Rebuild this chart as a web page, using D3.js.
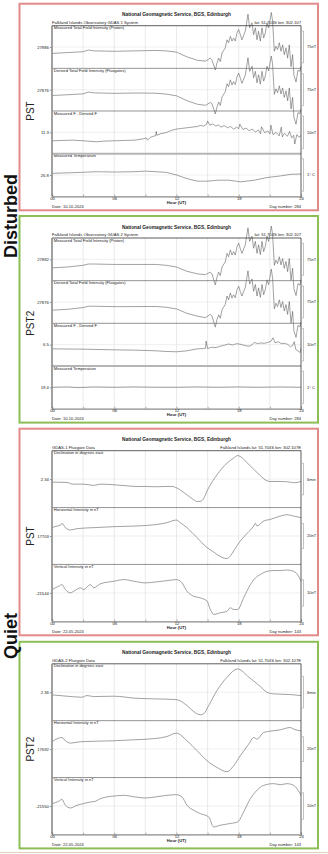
<!DOCTYPE html>
<html>
<head>
<meta charset="utf-8">
<script src="https://cdn.jsdelivr.net/npm/d3@7/dist/d3.min.js"></script>
<style>
  body { margin: 0; background: #fff; }
  svg { display: block; }
  text { font-family: "Liberation Sans", Arial, sans-serif; fill: #222; }
</style>
</head>
<body>
<div id="chart"></div>
<script>
// ---- disturbed day 10-10-2024 (day 284), hours UT ----
const stormHours = [0, 1.5, 3, 3.5, 4, 6, 8, 10, 11, 12, 13, 14, 14.8,
  15.25, 15.42, 15.74, 15.9, 16.06, 16.22, 16.39, 16.7, 16.87, 17.02,
  17.19, 17.35, 17.5, 17.67, 17.83, 17.99, 18.15, 18.31, 18.63, 18.89,
  19.05, 19.28, 19.43, 19.6, 19.76, 19.91, 20.08, 20.24, 20.4, 20.56,
  20.72, 20.88, 21.14, 21.26, 21.43, 21.59, 21.74, 21.91, 22.07, 22.23,
  22.39, 22.55, 22.71, 22.87, 23.04, 23.19, 23.32, 23.52, 23.71, 23.9, 24];

// GDAS 1
const pstMeasuredF = [27871, 27873, 27875, 27879, 27877, 27876, 27877, 27878, 27877, 27874, 27863, 27855, 27853,
  27860, 27856, 27832, 27848, 27860, 27852, 27872, 27884, 27903, 27896,
  27911, 27900, 27907, 27900, 27919, 27927, 27915, 27903, 27923, 27963,
  27931, 27943, 27915, 27931, 27903, 27923, 27900, 27931, 27907, 27919,
  27943, 27931, 27967, 27947, 27876, 27888, 27880, 27896, 27876, 27891,
  27868, 27884, 27860, 27891, 27840, 27868, 27820, 27804, 27832, 27829, 27841];
const pstDerivedF = [27862.3, 27864.1, 27866.2, 27870.4, 27868.6, 27867.3, 27868.1, 27867.7, 27865.7, 27861.6, 27850.3, 27841.9, 27839.3,
  27846, 27843, 27819, 27835, 27847, 27839, 27859, 27871, 27890, 27883,
  27899, 27887, 27895, 27888, 27906, 27915, 27903, 27891, 27910, 27951,
  27919, 27931, 27904, 27919, 27892, 27911, 27889, 27919, 27896, 27908,
  27931, 27920, 27955, 27936, 27865, 27878, 27869, 27885, 27866, 27880,
  27858, 27873, 27850, 27880, 27831, 27858, 27811, 27795, 27822, 27820, 27831];
const pstDiffHours = [0, 1, 2, 3, 4.3, 5, 6, 7, 8, 8.8, 9.1, 9.2, 9.5, 10, 10.05, 10.1, 10.5, 11, 11.5, 12,
  12.5, 13, 13.5, 14, 14.3, 14.6, 14.9, 15.0, 15.2, 15.5, 15.8, 16.0, 16.3, 16.6, 16.9, 17.2, 17.5, 17.8, 18.0, 18.1,
  18.4, 18.7, 19.0, 19.3, 19.6, 19.9, 20.1, 20.2, 20.5, 20.8, 21.0, 21.1, 21.3, 21.6, 21.9, 22.1, 22.2, 22.4, 22.7, 22.9,
  23.1, 23.3, 23.4, 23.6, 23.8, 24];
const pstDiff = [8.7, 8.8, 8.9, 8.7, 8.4, 8.6, 8.7, 8.8, 8.9, 9.3, 9.6, 8.9, 9.8, 10.3, 11.6, 10.4, 10.9, 11.2, 11.9, 12.3,
  12.5, 12.7, 12.9, 13.1, 13.4, 13.2, 13.8, 14.8, 13.5, 13.9, 13.2, 13.6, 12.9, 13.4, 12.7, 13.1, 12.3, 12.9, 12.4, 13.8,
  12.2, 12.6, 11.8, 12.3, 11.4, 12.0, 10.9, 13.0, 11.2, 11.7, 10.8, 13.5, 10.6, 11.3, 10.2, 12.9, 9.9, 11.0, 10.1, 11.6,
  9.6, 10.4, 7.7, 10.6, 9.8, 10.3];
const pstTempHours = [0, 2, 4.3, 6, 8, 9, 11, 12, 13, 14, 15, 16, 17, 18.2, 19.5, 20.7, 22, 23, 24];
const pstTemp = [26.85, 26.87, 26.90, 26.89, 26.9, 26.92, 26.88, 26.8, 26.69, 26.61, 26.61, 26.64, 26.64, 26.59, 26.64, 26.72, 26.77, 26.82, 26.83];

// GDAS 2
const pst2MeasuredF = [27862, 27864, 27868, 27871, 27871, 27870, 27870, 27870, 27868, 27864, 27854, 27848, 27846,
  27852, 27848, 27822, 27840, 27852, 27844, 27864, 27876, 27896, 27888,
  27904, 27892, 27900, 27892, 27912, 27920, 27907, 27896, 27916, 27956,
  27924, 27936, 27908, 27924, 27896, 27916, 27893, 27924, 27900, 27912,
  27936, 27924, 27960, 27940, 27868, 27880, 27872, 27888, 27869, 27884,
  27861, 27877, 27853, 27884, 27833, 27861, 27813, 27797, 27825, 27822, 27834];
const pst2DerivedF = [27856.8, 27858.8, 27862.9, 27866, 27866, 27865.1, 27865.2, 27865.4, 27863.6, 27859.7, 27849.4, 27842.8, 27839.3,
  27847, 27843, 27817, 27835, 27846, 27838, 27858, 27870, 27890, 27881,
  27897, 27885, 27893, 27886, 27905, 27913, 27900, 27890, 27910, 27949,
  27918, 27930, 27901, 27917, 27890, 27909, 27887, 27917, 27893, 27905,
  27928, 27917, 27953, 27932, 27860, 27873, 27865, 27881, 27863, 27877,
  27855, 27870, 27847, 27877, 27827, 27854, 27808, 27793, 27821, 27818, 27829];
const pst2DiffHours = [0, 3, 6, 8, 10, 11, 12, 13, 14, 14.6, 14.8, 14.85, 15, 15.4, 15.8, 16.2, 16.6, 17, 17.4, 17.8,
  18.2, 18.6, 19, 19.3, 19.5, 19.8, 20.1, 20.5, 20.9, 21.1, 21.3, 21.5, 21.8, 22.1, 22.4, 22.7, 23, 23.2, 23.35, 23.5,
  23.7, 23.9, 24];
const pst2Diff = [5.2, 5.1, 4.9, 4.8, 4.6, 4.4, 4.3, 4.6, 5.2, 5.3, 5.4, 7.6, 5.3, 5.7, 5.6, 6.0, 6.3, 6.7, 6.4, 6.8,
  6.6, 6.2, 6.0, 6.5, 7.2, 6.8, 7.0, 6.9, 7.3, 7.5, 8.6, 7.1, 7.4, 6.8, 6.9, 6.6, 5.8, 6.3, 7.4, 5.0,
  4.6, 4.1, 5.3];
const pst2TempHours = [0, 1.5, 2.5, 4, 6, 8, 10, 12, 14, 16, 18, 20, 22, 24];
const pst2Temp = [19.4, 19.41, 19.39, 19.41, 19.4, 19.41, 19.4, 19.4, 19.41, 19.4, 19.41, 19.4, 19.41, 19.4];

// ---- quiet day 22-05-2024 (day 143) ----
const pstDeclHours = [0, 1.45, 2, 3.05, 4, 4.66, 6, 7.23, 8, 9, 10, 11, 11.57, 12.05, 13, 13.65, 13.98, 14.3, 14.6, 15,
  15.9, 16.87, 17.5, 17.9, 18.15, 19, 20, 20.72, 21.04, 22, 22.97, 23.3, 24];
const pstDecl = [2.3305, 2.3295, 2.3242, 2.3242, 2.32, 2.3242, 2.3221, 2.3189, 2.3168, 2.3168, 2.3158, 2.3168, 2.3168, 2.3116, 2.2905, 2.2747, 2.2695, 2.2695, 2.2779, 2.3063,
  2.3537, 2.3905, 2.4063, 2.4147, 2.4116, 2.3853, 2.3537, 2.3347, 2.3326, 2.3326, 2.3305, 2.3284, 2.3326];
const pstHorizHours = [0, 0.48, 0.8, 0.96, 1.29, 1.77, 2.41, 4.02, 6.01, 8.0, 9.99, 11.08, 11.98, 12.37, 13.01, 13.98, 14.94, 15.58, 16.22, 16.87,
  17.19, 17.51, 18.15, 18.8, 19.44, 19.6, 19.76, 20.4, 21.04, 22.01, 22.65, 23.29, 24];
const pstHoriz = [17709.7, 17711, 17711.5, 17713.1, 17709.7, 17707.8, 17708.9, 17709.7, 17710.5, 17711, 17712.1, 17713.7, 17715.8, 17713.7, 17709.7, 17701.7, 17693.7, 17690.2, 17686.5, 17684.9,
  17687, 17691, 17699, 17705.1, 17711, 17713.1, 17711, 17715, 17716.3, 17719, 17720.1, 17719, 17717.7];
const pstVertHours = [0, 0.32, 0.64, 0.96, 1.29, 1.77, 2.09, 2.73, 3.05, 3.7, 4.02, 4.66, 6.01, 6.91, 7.87, 8.99, 9.99, 11.08, 11.98, 12.53,
  13.01, 13.65, 14.3, 14.94, 15.26, 15.58, 16.22, 16.87, 17.19, 17.51, 17.9, 18.47, 19.12, 19.6, 20.08, 20.72, 21.37, 22.01, 22.65, 23.29,
  23.77, 24];
const pstVert = [-21542.75, -21542.1, -21541.5, -21540.9, -21542.75, -21544, -21543.4, -21542.1, -21542.75, -21540.9, -21542.1, -21540.6, -21539.6, -21539, -21539.6, -21540.25, -21539.9, -21539.4, -21539, -21540.25,
  -21543.4, -21545.25, -21545.9, -21547.1, -21550.25, -21552.1, -21551.5, -21550.9, -21549.6, -21550.25, -21550.25, -21545.9, -21540.9, -21538.4, -21537.1, -21535.9, -21535.6, -21535.6, -21535.4, -21535.9,
  -21537.75, -21539.6];

const pst2DeclHours = [0, 1.45, 2.89, 3.37, 4.02, 6.01, 8.0, 9.99, 11.98, 13.01, 13.65, 14.3, 14.62, 15.1, 15.9, 16.87, 17.9, 18.99, 19.98, 20.72,
  21.37, 22.97, 24];
const pst2Decl = [2.3516, 2.3474, 2.3442, 2.3495, 2.3463, 2.3474, 2.3411, 2.3389, 2.3368, 2.3179, 2.2989, 2.2884, 2.2916, 2.3179, 2.3653, 2.4074, 2.4337, 2.4074, 2.3811, 2.36,
  2.3547, 2.3526, 2.3495];
const pst2HorizHours = [0, 0.96, 1.29, 1.77, 2.73, 6.01, 8, 9.99, 11.08, 11.98, 13.01, 13.98, 14.94, 15.9, 16.87, 17.51, 18.15, 18.96, 19.44, 19.76,
  20.4, 22.01, 22.97, 23.29, 24];
const pst2Horiz = [17697.9, 17701.3, 17698.7, 17696.8, 17697.9, 17698.7, 17699.5, 17700.5, 17702.1, 17704.8, 17698.7, 17690.7, 17682.7, 17677.3, 17673.9, 17678.7, 17686.7, 17696, 17701.3, 17700,
  17705.3, 17707.5, 17709.3, 17708, 17706.7];
const pst2VertHours = [0, 0.64, 0.96, 1.29, 1.77, 2.41, 3.05, 3.7, 4.18, 4.66, 6.01, 6.91, 8, 8.99, 9.99, 11.08, 11.98, 12.53, 13.01, 13.65,
  14.3, 15.1, 15.58, 16.22, 17.19, 17.9, 18.47, 19.12, 19.6, 20.4, 21.37, 22.01, 22.65, 23.29, 24];
const pst2Vert = [-21549.1, -21548.25, -21547.5, -21549.75, -21550.75, -21549.75, -21549.1, -21548.5, -21548.25, -21547.25, -21546.25, -21546, -21546.6, -21547, -21546.6, -21546, -21545.75, -21546.6, -21549.75, -21551.6,
  -21552.9, -21554.1, -21557.9, -21557.25, -21556.6, -21556, -21552.25, -21547.25, -21544.75, -21542.25, -21541.6, -21542, -21541.6, -21542.25, -21546];

// axis / label texts
const hourTicks = [0, 3, 6, 9, 12, 15, 18, 21, 24];
const stormLabels = ['Measured Total Field Intensity (Proton)', 'Derived Total Field Intensity (Fluxgates)', 'Measured F - Derived F', 'Measured Temperature'];
const quietLabels = ['Declination in degrees east', 'Horizontal Intensity in nT', 'Vertical Intensity in nT'];
const pstStormTicks = [27886, 27876, 11.3, 26.8];
const pst2StormTicks = [27882, 27876, 6.5, 19.4];
const pstQuietTicks = [2.34, 17703, -21544];
const pst2QuietTicks = [2.36, 17692, -21550];
const stormBars = ['75nT', '75nT', '10nT', '1\u00b0 C'];
const quietBars = ['6min', '20nT', '10nT'];

// ---- build panel options ----
const pair = (hs, vs) => hs.map((h, i) => ({ h: h, v: vs[i] }));
function stormSubs(ticks, mf, df, dh, dv, th, tv) {
  const spans = [100, 100, 13.1, 1.31], bars = [75, 75, 10, 1];
  const series = [pair(stormHours, mf), pair(stormHours, df), pair(dh, dv), pair(th, tv)];
  return ticks.map((t, i) => ({ label: stormLabels[i], tick: t, span: spans[i], bar: bars[i], barLabel: stormBars[i], data: series[i] }));
}
function quietSubs(ticks, series) {
  const spans = [0.18, 45.6, 21.4], bars = [0.1, 20, 10];
  return ticks.map((t, i) => ({ label: quietLabels[i], tick: t, span: spans[i], bar: bars[i], barLabel: quietBars[i], data: series[i] }));
}

const panels = [
  { top: 3.7, color: '#e18b89', station: 'PST', curve: d3.curveLinear,
    left: 'Falkland Islands Observatory GDAS 1 System', right: 'lat: 51.704S lon: 302.107',
    date: 'Date: 10-10-2024', day: 'Day number:  284', sepBand: 3,
    subs: stormSubs(pstStormTicks, pstMeasuredF, pstDerivedF, pstDiffHours, pstDiff, pstTempHours, pstTemp) },
  { top: 216, color: '#8dbd55', station: 'PST2', curve: d3.curveLinear,
    left: 'Falkland Islands Observatory GDAS 2 System', right: 'lat: 51.704S lon: 302.107',
    date: 'Date: 10-10-2024', day: 'Day number:  284', sepBand: 3,
    subs: stormSubs(pst2StormTicks, pst2MeasuredF, pst2DerivedF, pst2DiffHours, pst2Diff, pst2TempHours, pst2Temp) },
  { top: 428.7, color: '#e18b89', station: 'PST', curve: d3.curveMonotoneX,
    left: 'GDAS-1 Fluxgate Data', right: 'Falkland Islands  lat: 51.704S lon: 302.107E',
    date: 'Date: 22-05-2024', day: 'Day number:  143', sepBand: -1,
    subs: quietSubs(pstQuietTicks, [pair(pstDeclHours, pstDecl), pair(pstHorizHours, pstHoriz), pair(pstVertHours, pstVert)]) },
  { top: 641.8, color: '#8dbd55', station: 'PST2', curve: d3.curveMonotoneX,
    left: 'GDAS-2 Fluxgate Data', right: 'Falkland Islands  lat: 51.704S lon: 302.107E',
    date: 'Date: 22-05-2024', day: 'Day number:  143', sepBand: -1,
    subs: quietSubs(pst2QuietTicks, [pair(pst2DeclHours, pst2Decl), pair(pst2HorizHours, pst2Horiz), pair(pst2VertHours, pst2Vert)]) }
];

const width = 328, height = 854;
const svg = d3.select('#chart').append('svg').attr('width', width).attr('height', height);
const scaleX = d3.scaleLinear().domain([0, 24]).range([52, 301]);
const plotTop = 22, plotBottom = 192.6;

function drawPanel(p) {
  const g = svg.append('g').attr('transform', 'translate(0,' + p.top + ')');
  g.append('rect').attr('x', 19.5).attr('y', 0).attr('width', 298.5).attr('height', 206.6)
      .attr('fill', '#fff').attr('stroke', p.color).attr('stroke-width', 2);

  // titles
  g.append('text').attr('x', 176.5).attr('y', 12.6).attr('text-anchor', 'middle')
      .style('font-size', '4.8px').style('font-weight', 'bold').text('National Geomagnetic Service, BGS, Edinburgh');
  g.append('text').attr('x', 52).attr('y', 20.3).style('font-size', '4.2px').text(p.left);
  g.append('text').attr('x', 301).attr('y', 20.3).attr('text-anchor', 'end').style('font-size', '4.2px').text(p.right);

  // vertical hour grid
  g.selectAll('.vgrid').data(hourTicks.slice(1, -1)).enter().append('line')
      .attr('x1', (d) => scaleX(d)).attr('x2', (d) => scaleX(d))
      .attr('y1', plotTop).attr('y2', plotBottom)
      .attr('stroke', '#dcdcdc').attr('stroke-width', 0.6);

  const subH = (plotBottom - plotTop) / p.subs.length;
  p.subs.forEach((s, i) => {
    const y0 = plotTop + i * subH, y1 = y0 + subH;
    const scaleY = d3.scaleLinear().domain([s.tick - s.span / 2, s.tick + s.span / 2]).range([y1, y0]);

    // horizontal grid at the tick
    g.append('line').attr('x1', 52).attr('x2', 301).attr('y1', scaleY(s.tick)).attr('y2', scaleY(s.tick))
        .attr('stroke', '#e4e4e4').attr('stroke-width', 0.6);

    const axisY = g.append('g').attr('transform', 'translate(52,0)')
        .call(d3.axisLeft(scaleY).tickValues([s.tick]).tickFormat(() => String(s.tick)).tickSize(2.2).tickPadding(1));
    axisY.select('.domain').remove();
    axisY.selectAll('line').attr('stroke', '#555').attr('stroke-width', 0.6);
    axisY.selectAll('text').style('font-size', '4.2px').style('font-family', null);

    g.append('text').attr('x', 53.8).attr('y', y0 + 3.6).style('font-size', '4.1px').text(s.label);

    // data line
    g.append('path').datum(s.data)
        .attr('fill', 'none').attr('stroke', '#555').attr('stroke-width', 0.55)
        .attr('d', d3.line().x((r) => scaleX(r.h)).y((r) => scaleY(r.v)).curve(p.curve));

    // scale bar on the right
    const bt = scaleY(s.tick + s.bar / 2), bb = scaleY(s.tick - s.bar / 2);
    g.append('line').attr('x1', 303.5).attr('x2', 303.5).attr('y1', bt).attr('y2', bb).attr('stroke', '#999').attr('stroke-width', 0.6);
    [bt, bb].forEach((yy) => g.append('line').attr('x1', 302).attr('x2', 303.5).attr('y1', yy).attr('y2', yy).attr('stroke', '#999').attr('stroke-width', 0.6));
    g.append('text').attr('x', 307).attr('y', scaleY(s.tick) + 1.4).style('font-size', '4px').text(s.barLabel);

    // separator
    if (i > 0) {
      const band = i === p.sepBand;
      g.append('line').attr('x1', 52).attr('x2', 301).attr('y1', y0).attr('y2', y0)
          .attr('stroke', band ? '#b5b5b5' : '#666').attr('stroke-width', band ? 2 : 0.7);
    }
  });

  // frame
  g.append('line').attr('x1', 52).attr('x2', 301).attr('y1', plotTop).attr('y2', plotTop).attr('stroke', '#333').attr('stroke-width', 0.8);
  g.append('line').attr('x1', 301).attr('x2', 301).attr('y1', plotTop).attr('y2', plotBottom).attr('stroke', '#333').attr('stroke-width', 0.8);
  g.append('line').attr('x1', 52).attr('x2', 52).attr('y1', plotTop).attr('y2', plotBottom).attr('stroke', '#8a8a8a').attr('stroke-width', 1.6);

  const axisX = g.append('g').attr('transform', 'translate(0,' + plotBottom + ')')
      .call(d3.axisBottom(scaleX).tickValues(hourTicks).tickSize(-1.8).tickPadding(0.9)
          .tickFormat((d) => (d % 6 === 0 ? d3.format('02d')(d) : '')));
  axisX.select('.domain').attr('stroke', '#8a8a8a').attr('stroke-width', 1.3);
  axisX.selectAll('line').attr('stroke', '#777').attr('stroke-width', 0.6);
  axisX.selectAll('text').style('font-size', '4.2px').style('font-family', null);

  g.append('text').attr('x', 176.5).attr('y', plotBottom + 7.5).attr('text-anchor', 'middle')
      .style('font-size', '4.2px').style('font-weight', 'bold').text('Hour (UT)');
  g.append('text').attr('x', 52).attr('y', plotBottom + 11.6).style('font-size', '4.1px').text(p.date);
  g.append('text').attr('x', 301).attr('y', plotBottom + 11.6).attr('text-anchor', 'end').style('font-size', '4.1px').text(p.day);

  // station name
  const cy = (plotTop + plotBottom) / 2;
  g.append('text').attr('transform', 'translate(33.5,' + cy + ') rotate(-90)').attr('text-anchor', 'middle')
      .style('font-size', '10px').text(p.station);
}

panels.forEach(drawPanel);

// activity labels
svg.append('text').attr('transform', 'translate(16.5,216) rotate(-90)').attr('text-anchor', 'middle')
    .style('font-size', '18px').style('font-weight', 'bold').style('fill', '#111').text('Disturbed');
svg.append('text').attr('transform', 'translate(16.5,636) rotate(-90)').attr('text-anchor', 'middle')
    .style('font-size', '18px').style('font-weight', 'bold').style('fill', '#111').text('Quiet');

svg.append('line').attr('x1', 0).attr('x2', width).attr('y1', 852.5).attr('y2', 852.5).attr('stroke', '#dcd0b6').attr('stroke-width', 1.2);
</script>
</body>
</html>
